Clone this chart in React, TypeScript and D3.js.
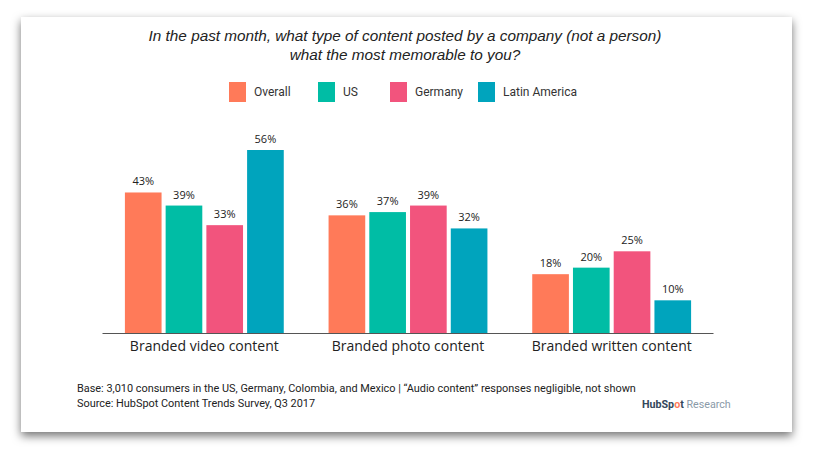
import React from "react";
import * as d3 from "d3";

const categories = ["Branded video content", "Branded photo content", "Branded written content"];
const seriesNames = ["Overall", "US", "Germany", "Latin America"];
const seriesColors = ["#FF7A59", "#00BDA5", "#F2547D", "#00A4BD"];
const overallValues = [43, 36, 18];
const usValues = [39, 37, 20];
const germanyValues = [33, 39, 25];
const latamValues = [56, 32, 10];
const seriesValues = [overallValues, usValues, germanyValues, latamValues];

const titleLines = [
  "In the past month, what type of content posted by a company (not a person)",
  "what the most memorable to you?",
];
const footLines = [
  "Base: 3,010 consumers in the US, Germany, Colombia, and Mexico | \u201cAudio content\u201d responses negligible, not shown",
  "Source: HubSpot Content Trends Survey, Q3 2017",
];

const W = 813;
const H = 457;

export default function App() {
  const baseY = 333;
  const x0 = d3.scaleBand<string>().domain(categories).range([102.5, 713.5]).paddingInner(0.22).paddingOuter(0.11);
  const x1 = d3.scaleBand<string>().domain(seriesNames).range([0, x0.bandwidth()]).paddingInner(0.1).paddingOuter(0);
  const y = d3.scaleLinear().domain([0, 56]).range([baseY, 150]);

  const legendX = [229, 318, 390, 478];

  return (
    <svg width={W} height={H} style={{ position: "absolute", left: 0, top: 0, background: "#fff" }}>
      <defs>
        <filter id="sh" x="-10%" y="-10%" width="120%" height="130%">
          <feDropShadow dx="0" dy="4" stdDeviation="5" floodColor="#000" floodOpacity="0.55" />
        </filter>
      </defs>
      <rect x={21} y={17} width={771} height={415} fill="#fff" filter="url(#sh)" />
      {titleLines.map((t, i) => (
        <text key={i} x={405} y={41 + i * 19} textAnchor="middle" fontFamily="Liberation Sans, Arial, sans-serif" fontStyle="italic" fontSize={15.3} fill="#222">
          {t}
        </text>
      ))}
      {seriesNames.map((s, i) => (
        <g key={s}>
          <rect x={legendX[i]} y={82} width={17} height={20} fill={seriesColors[i]} />
          <text x={legendX[i] + 25} y={96} fontFamily="Roboto, sans-serif" fontSize={12} fill="#333">
            {s}
          </text>
        </g>
      ))}
      {categories.map((c, ci) => (
        <g key={c} transform={`translate(${x0(c)},0)`}>
          {seriesNames.map((s, si) => {
            const v = seriesValues[si][ci];
            const bx = x1(s)!;
            return (
              <g key={s}>
                <rect x={bx} y={y(v)} width={x1.bandwidth()} height={baseY - y(v)} fill={seriesColors[si]} />
                <text x={bx + x1.bandwidth() / 2} y={y(v) - 7} textAnchor="middle" fontFamily="Open Sans, sans-serif" fontSize={11} fill="#222">
                  {v}%
                </text>
              </g>
            );
          })}
          <text x={x0.bandwidth() / 2} y={351} textAnchor="middle" fontFamily="Open Sans, sans-serif" fontSize={14} fill="#222">
            {c}
          </text>
        </g>
      ))}
      <line x1={102.5} x2={713.5} y1={baseY + 0.5} y2={baseY + 0.5} stroke="#555" strokeWidth={1} />
      {footLines.map((t, i) => (
        <text key={i} x={77} y={392 + i * 15} fontFamily="Roboto, sans-serif" fontSize={10.9} fill="#222">
          {t}
        </text>
      ))}
      <text x={642} y={408} fontFamily="Roboto, sans-serif" fontSize={10.7} fill="#33475B">
        <tspan fontWeight="bold">HubSp</tspan>
        <tspan fontWeight="bold" fill="#FF7A59">o</tspan>
        <tspan fontWeight="bold">t</tspan>
        <tspan fill="#8a9aa8"> Research</tspan>
      </text>
    </svg>
  );
}
